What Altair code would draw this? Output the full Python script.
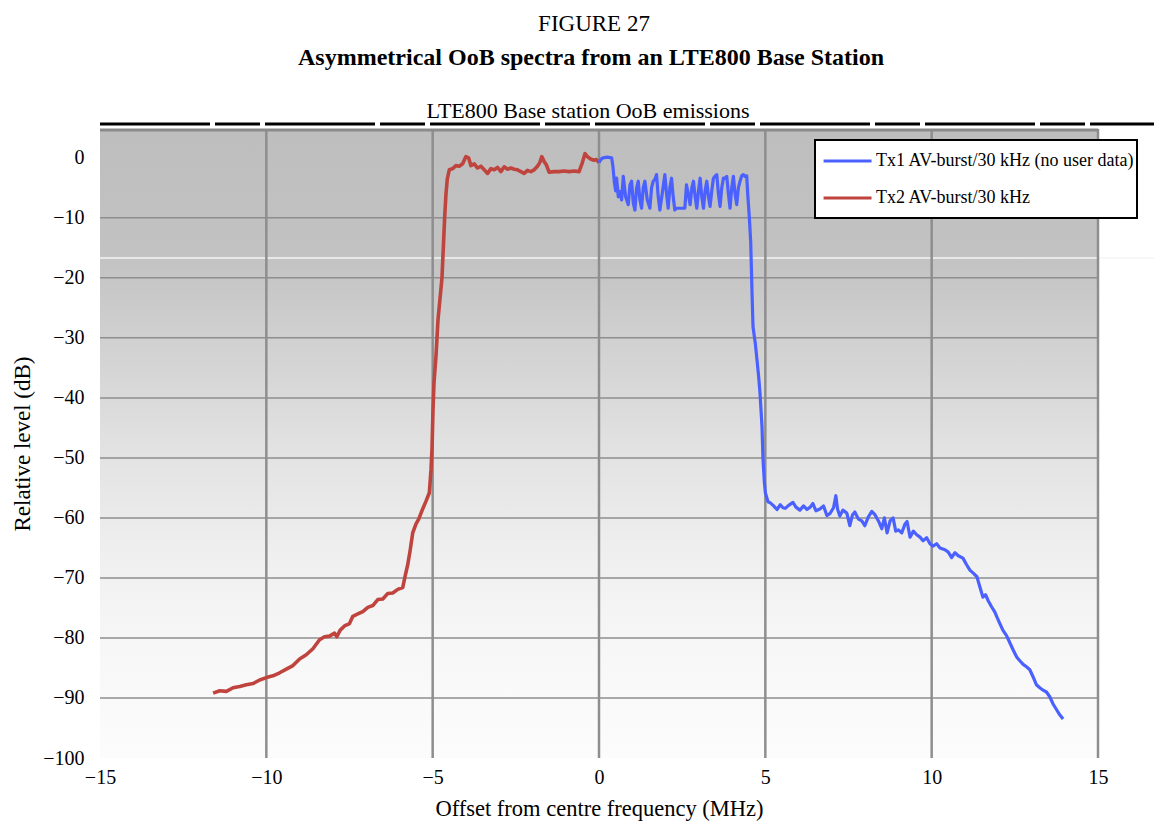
import altair as alt
import pandas as pd

# ---------------- data ----------------
tx2_freq = [-11.6, -11.4, -11.2, -11.0, -10.8, -10.6, -10.4, -10.2, -10.0, -9.8, -9.6, -9.4, -9.2,
            -9.0, -8.8, -8.6, -8.4, -8.25, -8.1, -7.95, -7.88, -7.78, -7.65, -7.5, -7.4, -7.25,
            -7.1, -6.95, -6.8, -6.65, -6.5, -6.35, -6.2, -6.05, -5.9, -5.82, -5.75, -5.68, -5.6,
            -5.5, -5.42, -5.3, -5.2, -5.1, -5.05, -5.02, -4.99, -4.96, -4.9, -4.84, -4.78, -4.72,
            -4.68, -4.64, -4.6, -4.56, -4.5, -4.4, -4.3, -4.2, -4.1, -4.0, -3.92, -3.85, -3.75,
            -3.65, -3.55, -3.45, -3.35, -3.25, -3.15, -3.05, -2.95, -2.85, -2.75, -2.65, -2.55,
            -2.45, -2.35, -2.25, -2.15, -2.05, -1.95, -1.85, -1.78, -1.72, -1.65, -1.58, -1.5,
            -1.35, -1.2, -1.05, -0.9, -0.75, -0.6, -0.5, -0.42, -0.35, -0.25, -0.15, -0.08, 0.0]
tx2_level = [-89.2, -88.8, -88.9, -88.3, -88.1, -87.8, -87.6, -87.0, -86.6, -86.3, -85.8, -85.2, -84.6,
             -83.5, -82.8, -81.8, -80.3, -79.8, -79.7, -79.2, -79.8, -78.7, -78.0, -77.6, -76.4, -76.0,
             -75.6, -74.9, -74.6, -73.6, -73.5, -72.6, -72.5, -71.9, -71.6, -69.5, -67.8, -65.5, -62.5,
             -61.0, -60.2, -58.5, -57.2, -55.8, -52.0, -48.5, -42.0, -37.5, -33.0, -27.0, -23.5, -20.0,
             -15.0, -10.0, -6.0, -3.5, -2.0, -1.8, -1.3, -1.4, -1.0, 0.2, 0.0, -1.3, -1.0,
             -1.7, -1.4, -2.0, -2.6, -1.8, -2.0, -1.6, -2.3, -1.5, -1.9, -1.7, -1.9,
             -2.0, -2.3, -2.6, -2.1, -2.3, -2.0, -1.4, -0.8, 0.2, -0.6, -1.2, -2.4,
             -2.3, -2.3, -2.2, -2.3, -2.2, -2.3, -0.8, 0.7, 0.2, -0.2, -0.4, -0.3, -0.8]

tx1_freq = [0.0, 0.05, 0.12, 0.25, 0.38, 0.42, 0.46, 0.5, 0.53, 0.58, 0.63, 0.68, 0.73, 0.8, 0.88,
            0.93, 0.98, 1.03, 1.08, 1.13, 1.18, 1.23, 1.28, 1.33, 1.38, 1.45, 1.53, 1.58, 1.63,
            1.68, 1.73, 1.78, 1.83, 1.9, 1.98, 2.03, 2.08, 2.13, 2.18, 2.23, 2.28, 2.33, 2.45,
            2.58, 2.63, 2.68, 2.74, 2.79, 2.84, 2.89, 2.94, 2.99, 3.04, 3.09, 3.14, 3.19, 3.24,
            3.29, 3.34, 3.39, 3.44, 3.5, 3.54, 3.59, 3.64, 3.69, 3.74, 3.79, 3.84, 3.89, 3.94,
            3.99, 4.04, 4.09, 4.14, 4.19, 4.24, 4.29, 4.34, 4.39, 4.44, 4.47, 4.52, 4.56, 4.6,
            4.63, 4.7, 4.75, 4.8, 4.84, 4.9, 4.93, 4.97, 5.0, 5.08, 5.15, 5.25, 5.35, 5.45, 5.53,
            5.6, 5.7, 5.83, 5.92, 6.04, 6.15, 6.25, 6.35, 6.43, 6.52, 6.64, 6.75, 6.85, 6.94,
            7.05, 7.12, 7.17, 7.24, 7.33, 7.45, 7.54, 7.62, 7.69, 7.8, 7.9, 7.99, 8.1, 8.2, 8.3,
            8.4, 8.5, 8.58, 8.66, 8.75, 8.84, 8.92, 9.0, 9.1, 9.2, 9.26, 9.35, 9.45, 9.55, 9.65,
            9.74, 9.85, 9.95, 10.04, 10.15, 10.25, 10.4, 10.5, 10.6, 10.7, 10.8, 10.94, 11.05,
            11.15, 11.25, 11.36, 11.45, 11.54, 11.62, 11.7, 11.8, 11.9, 11.96, 12.05, 12.14,
            12.25, 12.35, 12.45, 12.56, 12.65, 12.75, 12.85, 12.95, 13.05, 13.15, 13.25, 13.35,
            13.45, 13.55, 13.65, 13.76, 13.85, 13.95]
tx1_level = [-0.8, -0.3, 0.0, 0.1, 0.0, -1.5, -4.0, -5.5, -3.4, -6.5, -5.6, -7.0, -3.1, -6.5, -7.8,
             -4.5, -3.9, -7.5, -8.7, -5.0, -3.9, -7.0, -8.4, -5.0, -3.9, -7.0, -8.4, -5.0, -3.9,
             -3.6, -2.8, -6.5, -8.7, -6.0, -2.8, -6.0, -8.4, -5.0, -3.4, -6.5, -8.7, -8.4, -8.4,
             -8.4, -4.5, -6.0, -7.8, -5.0, -3.9, -6.5, -8.4, -5.5, -3.4, -6.5, -8.4, -5.5, -3.9,
             -6.5, -8.1, -5.5, -3.4, -3.0, -2.8, -6.0, -8.1, -5.0, -3.4, -3.4, -3.1, -6.0, -8.4,
             -5.0, -3.1, -6.0, -7.8, -5.0, -3.9, -3.0, -2.8, -3.1, -3.0, -6.0, -10.0, -14.0, -22.5,
             -28.2, -31.0, -33.7, -36.5, -39.2, -44.8, -50.3, -54.0, -55.8, -57.3, -57.5, -58.0, -58.6, -57.8, -58.3,
             -58.4, -57.9, -57.4, -58.2, -58.7, -58.0, -58.6, -58.2, -57.6, -58.8, -58.5, -58.0, -59.6, -59.3,
             -58.3, -56.3, -58.5, -59.7, -58.7, -59.2, -61.3, -59.5, -59.0, -60.2, -60.5, -61.3, -59.8, -58.9, -59.5,
             -60.5, -61.8, -60.0, -62.5, -60.5, -60.0, -62.2, -62.0, -62.5, -61.0, -60.6, -63.2, -62.2, -62.8, -63.2,
             -63.8, -63.3, -64.3, -64.7, -64.3, -65.0, -65.3, -65.7, -66.6, -65.8, -66.3, -66.7, -67.8,
             -68.7, -69.2, -69.8, -71.5, -73.2, -72.8, -73.8, -74.8, -75.7, -76.5, -77.6, -78.7,
             -79.6, -80.8, -82.0, -83.2, -83.8, -84.4, -84.8, -85.3, -86.5, -87.8, -88.3, -88.7,
             -89.0, -89.8, -91.0, -92.0, -92.8, -93.5]

series_names = ["Tx1 AV-burst/30 kHz (no user data)", "Tx2 AV-burst/30 kHz"]
series_colors = ["#4A61FF", "#C0443E"]
x_ticks = [-15, -10, -5, 0, 5, 10, 15]
y_ticks = [0, -10, -20, -30, -40, -50, -60, -70, -80, -90, -100]
x_grid = [-10, -5, 0, 5, 10, 15]
y_grid = [-10, -20, -30, -40, -50, -60, -70, -80, -90]

figure_label = "FIGURE 27"
figure_caption = "Asymmetrical OoB spectra from an LTE800 Base Station"
chart_title = "LTE800 Base station OoB emissions"
x_title = "Offset from centre frequency (MHz)"
y_title = "Relative level (dB)"

# ---------------- build ----------------
W, H = 998, 629
FONT = "Liberation Serif"

df1 = pd.DataFrame({"f": tx1_freq, "level": tx1_level, "series": series_names[0]})
df2 = pd.DataFrame({"f": tx2_freq, "level": tx2_level, "series": series_names[1]})
one = pd.DataFrame({"k": [0]})

xscale = alt.Scale(domain=[-15, 15], nice=False, zero=False)
yscale = alt.Scale(domain=[-100, 4.8], nice=False, zero=False)
cscale = alt.Scale(domain=series_names, range=series_colors)

x_axis = alt.Axis(values=x_ticks, grid=False, domain=False, ticks=False, labelFont=FONT,
                  labelFontSize=20, labelColor="black", labelPadding=9, title=x_title,
                  titleFont=FONT, titleFontSize=22.5, titleFontWeight="normal", titleColor="black",
                  titleY=57, titleBaseline="alphabetic", labelFlush=False)
y_axis = alt.Axis(values=y_ticks, grid=False, domain=False, ticks=False, labelFont=FONT,
                  labelFontSize=20, labelColor="black", labelPadding=16, title=y_title,
                  titleFont=FONT, titleFontSize=23, titleFontWeight="normal", titleColor="black",
                  titleX=-78, titleBaseline="middle", labelFlush=False)

bg = alt.Chart(one).mark_rect(
    color=alt.Gradient(
        gradient="linear", x1=0, x2=0, y1=0, y2=1,
        stops=[
            alt.GradientStop(color="#bebebe", offset=0),
            alt.GradientStop(color="#c2c2c2", offset=0.2),
            alt.GradientStop(color="#d2d2d2", offset=0.35),
            alt.GradientStop(color="#e1e1e1", offset=0.5),
            alt.GradientStop(color="#eeeeee", offset=0.66),
            alt.GradientStop(color="#f7f7f7", offset=0.82),
            alt.GradientStop(color="#fcfcfc", offset=1),
        ],
    )
).encode(x=alt.value(0), x2=alt.value(W), y=alt.value(0), y2=alt.value(H))

artifact = alt.Chart(one).mark_rule(color="#f4f4f4", strokeWidth=1.5).encode(
    x=alt.value(0), x2=alt.value(1062), y=alt.value(129))

vgrid = alt.Chart(pd.DataFrame({"f": x_grid})).mark_rule(color="#8e8e8e", strokeWidth=2.5).encode(
    x=alt.X("f:Q", scale=xscale, axis=x_axis), y=alt.value(0), y2=alt.value(H))
hgrid = alt.Chart(pd.DataFrame({"level": y_grid})).mark_rule(color="#8e8e8e", strokeWidth=1.5).encode(
    y=alt.Y("level:Q", scale=yscale, axis=y_axis), x=alt.value(0), x2=alt.value(W))

top_border = alt.Chart(one).mark_rule(color="#8a8a8a", strokeWidth=3).encode(
    x=alt.value(0), x2=alt.value(W), y=alt.value(1))
black_band = alt.Chart(one).mark_rule(color="black", strokeWidth=3, strokeDash=[110, 5, 45, 5]).encode(
    x=alt.value(0), x2=alt.value(1062), y=alt.value(-5))

legend = alt.Legend(orient="none", legendX=715, legendY=11, title=None, labelFont=FONT,
                    labelFontSize=18, labelColor="black",
                    symbolType="M-0.71,0H2.03M0.6,-0.68V-0.679M0.6,0.68V0.679",
                    symbolSize=1225, symbolStrokeWidth=3, symbolFillColor="transparent",
                    strokeColor="black", fillColor="white", padding=2,
                    rowPadding=0, labelOffset=21, labelLimit=500)

red = alt.Chart(df2).mark_line(strokeWidth=3.6, strokeJoin="round").encode(
    x=alt.X("f:Q", scale=xscale, axis=x_axis),
    y=alt.Y("level:Q", scale=yscale, axis=y_axis),
    color=alt.Color("series:N", scale=cscale, legend=legend),
)
blue = alt.Chart(df1).mark_line(strokeWidth=3.2, strokeJoin="round").encode(
    x=alt.X("f:Q", scale=xscale, axis=x_axis),
    y=alt.Y("level:Q", scale=yscale, axis=y_axis),
    color=alt.Color("series:N", scale=cscale, legend=legend),
)

t1 = alt.Chart(one).mark_text(text=figure_label, font=FONT, fontSize=23, color="black",
                              align="center", baseline="alphabetic").encode(
    x=alt.value(494), y=alt.value(-98))
t2 = alt.Chart(one).mark_text(text=figure_caption, font=FONT, fontSize=24, fontWeight="bold",
                              color="black", align="center", baseline="alphabetic").encode(
    x=alt.value(491), y=alt.value(-64))
t3 = alt.Chart(one).mark_text(text=chart_title, font=FONT, fontSize=22, color="black",
                              align="center", baseline="alphabetic").encode(
    x=alt.value(488), y=alt.value(-11))

chart = alt.layer(bg, artifact, vgrid, hgrid, top_border, black_band, red, blue, t1, t2, t3).properties(
    width=W, height=H,
    autosize=alt.AutoSizeParams(type="none"),
    padding={"left": 92, "top": 121, "right": 56, "bottom": 63},
    background="white",
).configure_view(stroke=None).configure_legend(strokeWidth=2)

chart.save("out.html", embed_options={"renderer": "svg", "actions": False})
